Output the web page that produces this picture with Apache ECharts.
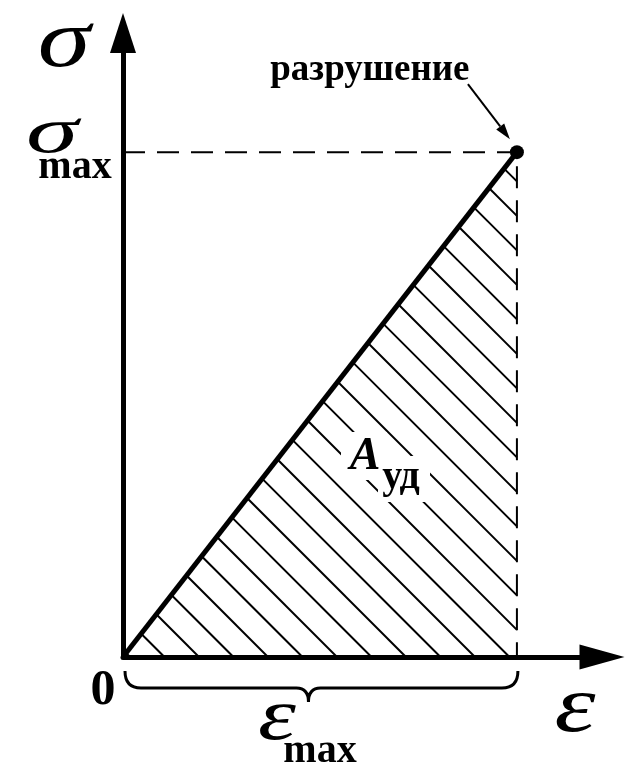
<!DOCTYPE html>
<html>
<head>
<meta charset="utf-8">
<title>Диаграмма σ–ε</title>
<script src="https://cdn.jsdelivr.net/npm/echarts@6/dist/echarts.min.js"></script>
<style>
  html, body { margin: 0; padding: 0; background: #fff; }
  #chart { width: 627px; height: 766px; }
</style>
</head>
<body>
<div id="chart"></div>
<script>
// strain / stress at the ends of the straight loading line (normalised units)
const strainValues = [0, 1]
const stressValues = [0, 1]
const epsMax = 1
const sigmaMax = 1
const breakLabel = 'разрушение'

const chart = echarts.init(document.getElementById('chart'))
const serif = '"Liberation Serif", "DejaVu Serif", serif'

const lineData = strainValues.map((x, i) => [x, stressValues[i]])

// text placed by its element position so that scaleX stretches around the anchor
const label = (x, y, str, font, scaleX) => ({
  type: 'text',
  z: 100,
  x: x,
  y: y,
  scaleX: scaleX || 1,
  style: {
    x: 0,
    y: 0,
    text: str,
    font: font,
    fill: '#000',
    align: 'center',
    verticalAlign: 'middle'
  }
})

// white patch that interrupts the hatching under a label
const blank = (x, y, w, h) => ({
  type: 'rect',
  z: 99,
  shape: { x: x, y: y, width: w, height: h },
  style: { fill: '#fff' }
})

const option = {
  animation: false,
  grid: { left: 123, right: 25, top: 33, bottom: 109, outerBoundsMode: 'none' },
  xAxis: {
    type: 'value',
    min: 0,
    max: 1.216,
    z: 5,
    axisLine: {
      show: true,
      symbol: ['none', 'triangle'],
      symbolSize: [25, 45],
      lineStyle: { color: '#000', width: 5 }
    },
    axisTick: { show: false },
    axisLabel: { show: false },
    splitLine: { show: false }
  },
  yAxis: {
    type: 'value',
    min: 0,
    max: 1.236,
    z: 5,
    axisLine: {
      show: true,
      symbol: ['none', 'triangle'],
      symbolSize: [26, 40],
      lineStyle: { color: '#000', width: 5 }
    },
    axisTick: { show: false },
    axisLabel: { show: false },
    splitLine: { show: false }
  },
  graphic: [
    label(64, 44, 'σ', 'italic 82px ' + serif, 1.3),
    label(52, 135, 'σ', 'italic 66px ' + serif, 1.6),
    label(75, 168, 'max', 'bold 40px ' + serif),
    label(103, 691, '0', 'bold 50px ' + serif),
    label(575, 710, 'ε', 'italic 80px ' + serif, 1.3),
    label(277, 720, 'ε', 'italic 74px ' + serif, 1.3),
    label(320, 752, 'max', 'bold 40px ' + serif),
    blank(341, 432, 46, 48),
    blank(378, 456, 52, 46),
    label(365, 457, 'A', 'italic bold 46px ' + serif),
    label(401, 478, 'уд', 'bold 40px ' + serif)
  ],
  series: [
    {
      type: 'custom',
      name: 'hatch',
      silent: true,
      z: 2,
      data: [[epsMax, sigmaMax]],
      renderItem: function (params, api) {
        const o = api.coord([0, 0])
        const p = api.coord([api.value(0), api.value(1)])
        const q = api.coord([api.value(0), 0])
        const tri = [o, p, q]
        const step = 34.5
        const children = []
        // 45° strokes, each one crossing the x axis at o.x + phase + k*step
        for (let xb = o[0] + 7; xb < p[0] + (o[1] - p[1]); xb += step) {
          const c = xb - o[1]
          const pts = []
          for (let e = 0; e < 3; e++) {
            const a = tri[e]
            const b = tri[(e + 1) % 3]
            const fa = a[0] - a[1] - c
            const fb = b[0] - b[1] - c
            if (fa === fb || fa * fb > 0) continue
            const t = fa / (fa - fb)
            pts.push([a[0] + t * (b[0] - a[0]), a[1] + t * (b[1] - a[1])])
          }
          if (pts.length < 2) continue
          const s = pts[0]
          const f = pts[pts.length - 1]
          children.push({
            type: 'line',
            shape: { x1: s[0], y1: s[1], x2: f[0], y2: f[1] },
            style: { stroke: '#000', lineWidth: 2 }
          })
        }
        return { type: 'group', children: children }
      }
    },
    {
      type: 'line',
      name: 'σ(ε)',
      data: lineData,
      symbol: 'none',
      silent: true,
      z: 3,
      lineStyle: { color: '#000', width: 5 }
    },
    {
      type: 'line',
      name: 'guides',
      data: [[0, sigmaMax], [epsMax, sigmaMax], [epsMax, 0]],
      symbol: 'none',
      silent: true,
      z: 3,
      lineStyle: { color: '#000', width: 2, type: [22, 12] }
    },
    {
      type: 'scatter',
      name: 'break',
      data: [[epsMax, sigmaMax]],
      symbol: 'circle',
      symbolSize: 14,
      silent: true,
      z: 6,
      itemStyle: { color: '#000', opacity: 1 }
    },
    {
      type: 'custom',
      name: 'break-note',
      clip: false,
      silent: true,
      z: 6,
      data: [[epsMax, sigmaMax]],
      renderItem: function (params, api) {
        const p = api.coord([api.value(0), api.value(1)])
        const sx = p[0] - 49
        const sy = p[1] - 68
        const tx = p[0] - 7
        const ty = p[1] - 13
        const ang = Math.atan2(ty - sy, tx - sx)
        const len = 16
        const half = 5
        const bx = tx - len * Math.cos(ang)
        const by = ty - len * Math.sin(ang)
        const px = -Math.sin(ang) * half
        const py = Math.cos(ang) * half
        return {
          type: 'group',
          children: [
            { type: 'line', shape: { x1: sx, y1: sy, x2: bx, y2: by }, style: { stroke: '#000', lineWidth: 2 } },
            { type: 'polygon', shape: { points: [[tx, ty], [bx + px, by + py], [bx - px, by - py]] }, style: { fill: '#000' } },
            {
              type: 'text',
              style: {
                x: p[0] - 147, y: p[1] - 82, text: breakLabel,
                font: 'bold 37px ' + serif, fill: '#000',
                align: 'center', verticalAlign: 'middle'
              }
            }
          ]
        }
      }
    },
    {
      type: 'custom',
      name: 'brace',
      clip: false,
      silent: true,
      z: 6,
      data: [[0, epsMax]],
      renderItem: function (params, api) {
        const a = api.coord([api.value(0), 0])
        const b = api.coord([api.value(1), 0])
        const y = a[1]
        const x0 = a[0] + 2
        const x1 = b[0] + 1
        const mid = (x0 + x1) / 2 - 13
        const d = 'M' + x0 + ',' + (y + 14) +
          ' Q' + x0 + ',' + (y + 31) + ' ' + (x0 + 16) + ',' + (y + 31) +
          ' L' + (mid - 12) + ',' + (y + 31) +
          ' Q' + mid + ',' + (y + 31) + ' ' + mid + ',' + (y + 45) +
          ' Q' + mid + ',' + (y + 31) + ' ' + (mid + 12) + ',' + (y + 31) +
          ' L' + (x1 - 16) + ',' + (y + 31) +
          ' Q' + x1 + ',' + (y + 31) + ' ' + x1 + ',' + (y + 14)
        return {
          type: 'path',
          shape: { pathData: d },
          style: { fill: 'none', stroke: '#000', lineWidth: 3 }
        }
      }
    }
  ]
}

chart.setOption(option)
</script>
</body>
</html>
